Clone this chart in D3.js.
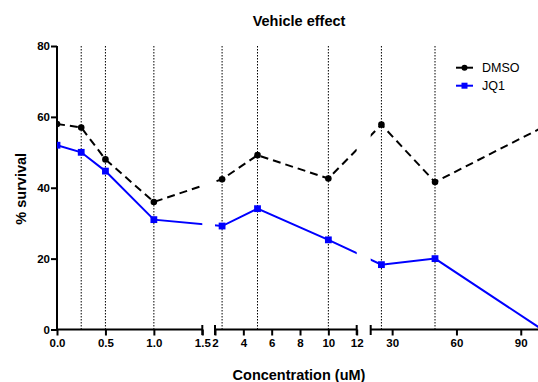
<!DOCTYPE html>
<html>
<head>
<meta charset="utf-8">
<script src="https://cdn.jsdelivr.net/npm/d3@7"></script>
<style>
  html, body { margin: 0; padding: 0; background: #fff; }
  svg { display: block; font-family: Arial, "Liberation Sans", sans-serif; }
</style>
</head>
<body>
<svg id="chart" width="538" height="382"></svg>
<script>
// Concentrations tested (uM) and % survival for each treatment
const concentrations = [0, 0.25, 0.5, 1, 2.5, 5, 10, 25, 50, 100];
const dmso = [58, 57, 48, 36, 42.4, 49.2, 42.6, 57.8, 41.6, 57];
const jq1 = [52, 50, 44.7, 31, 29.2, 34.1, 25.3, 18.3, 20, 0];

// Dotted reference lines at the tested doses
const guides = [0.25, 0.5, 1, 2.5, 5, 10, 25, 50];

// Broken x axis: three segments, each with its own ticks
const segDomains = [[0, 1.5], [2, 12], [20, 100]];
const segTicks = [[0, 0.5, 1, 1.5], [2, 4, 6, 8, 10, 12], [30, 60, 90]];
const segFormats = [".1f", "d", "d"];
const yTicks = [0, 20, 40, 60, 80];

const series = [
  { name: "DMSO", values: dmso, color: "#000000", dash: "8,5", marker: "circle" },
  { name: "JQ1", values: jq1, color: "#0000ff", dash: null, marker: "square" }
];

const svg = d3.select("#chart");

// Layout
const yAxisX = 57;
const segRanges = [[57, 202.3], [215, 356.7], [370.7, 542.2]];
const y = d3.scaleLinear().domain([0, 80]).range([329.5, 46]);
const baseY = y(0);

const segScales = segDomains.map((d, i) => d3.scaleLinear().domain(d).range(segRanges[i]));
function xPos(v) {
  for (let i = segDomains.length - 1; i >= 0; i--) {
    if (v >= segDomains[i][0]) return segScales[i](v);
  }
  return segScales[0](v);
}

// Clip marks to the three axis segments (gaps stay empty)
const clip = svg.append("defs").append("clipPath").attr("id", "segclip");
segRanges.forEach(r => {
  clip.append("rect").attr("x", r[0]).attr("y", 0).attr("width", r[1] - r[0]).attr("height", baseY + 2);
});

// Dotted guide lines
svg.append("g").selectAll("line").data(guides).join("line")
  .attr("x1", d => xPos(d)).attr("x2", d => xPos(d))
  .attr("y1", y(80)).attr("y2", baseY)
  .attr("stroke", "#000").attr("stroke-width", 1)
  .attr("stroke-dasharray", "1.5,1.5");

// Title and axis titles
svg.append("text").attr("x", 299).attr("y", 26).attr("text-anchor", "middle")
  .attr("font-size", 14.5).attr("font-weight", "bold").text("Vehicle effect");
svg.append("text").attr("x", 299).attr("y", 380).attr("text-anchor", "middle")
  .attr("font-size", 14.5).attr("font-weight", "bold").text("Concentration (uM)");
svg.append("text").attr("transform", `translate(26,${(y(0) + y(80)) / 2 + 1}) rotate(-90)`)
  .attr("text-anchor", "middle").attr("font-size", 14.5).attr("font-weight", "bold").text("% survival");

// Y axis
const yAxis = d3.axisLeft(y).tickValues(yTicks).tickSize(6).tickPadding(1).tickFormat(d3.format("d"));
const gy = svg.append("g").attr("transform", `translate(${yAxisX},0)`).call(yAxis);
gy.select(".domain").attr("d", `M0,${y(80)}V${baseY + 1}`).attr("stroke-width", 2);
gy.selectAll(".tick line").attr("stroke-width", 2);
gy.selectAll(".tick text").attr("font-size", 11.5).attr("font-weight", "bold").attr("fill", "#000")
  .attr("font-family", "Arial, 'Liberation Sans', sans-serif");

// X axis segments
segScales.forEach((s, i) => {
  const ax = d3.axisBottom(s).tickValues(segTicks[i]).tickSize(6).tickPadding(3)
    .tickFormat(d3.format(segFormats[i]));
  const g = svg.append("g").attr("transform", `translate(0,${baseY})`).call(ax);
  g.select(".domain").attr("d", `M${segRanges[i][0]},0H${segRanges[i][1]}`).attr("stroke-width", 2);
  g.selectAll(".tick line").attr("stroke-width", 2);
  g.selectAll(".tick text").attr("font-size", 11.5).attr("font-weight", "bold").attr("fill", "#000")
    .attr("font-family", "Arial, 'Liberation Sans', sans-serif");
  // End caps at the breaks
  const caps = [];
  if (i > 0) caps.push(segRanges[i][0]);
  if (i < segScales.length - 1) caps.push(segRanges[i][1]);
  g.selectAll("line.cap").data(caps).join("line").attr("class", "cap")
    .attr("x1", d => d).attr("x2", d => d).attr("y1", -4.5).attr("y2", 5.5)
    .attr("stroke", "#000").attr("stroke-width", 2);
});

// Series lines and markers
const line = d3.line().x(d => xPos(d[0])).y(d => y(d[1]));
series.forEach(sr => {
  const pts = concentrations.map((c, i) => [c, sr.values[i]]);
  svg.append("path").datum(pts)
    .attr("clip-path", "url(#segclip)")
    .attr("d", line).attr("fill", "none")
    .attr("stroke", sr.color).attr("stroke-width", 2)
    .attr("stroke-dasharray", sr.dash);
  const mg = svg.append("g").attr("clip-path", "url(#segclip)");
  if (sr.marker === "circle") {
    mg.selectAll("circle").data(pts).join("circle")
      .attr("cx", d => xPos(d[0])).attr("cy", d => y(d[1])).attr("r", 3.3).attr("fill", sr.color);
  } else {
    mg.selectAll("rect").data(pts).join("rect")
      .attr("x", d => xPos(d[0]) - 3.4).attr("y", d => y(d[1]) - 3.4)
      .attr("width", 6.8).attr("height", 6.8).attr("fill", sr.color);
  }
});

// Legend
const legend = svg.append("g");
series.forEach((sr, i) => {
  const ly = 67.7 + i * 18;
  legend.append("line").attr("x1", 456).attr("x2", 473).attr("y1", ly).attr("y2", ly)
    .attr("stroke", sr.color).attr("stroke-width", 2);
  if (sr.marker === "circle") {
    legend.append("circle").attr("cx", 464.5).attr("cy", ly).attr("r", 3).attr("fill", sr.color);
  } else {
    legend.append("rect").attr("x", 461.5).attr("y", ly - 3).attr("width", 6).attr("height", 6).attr("fill", sr.color);
  }
  legend.append("text").attr("x", 482).attr("y", ly).attr("dy", "0.35em")
    .attr("font-size", 12.5).text(sr.name);
});
</script>
</body>
</html>
